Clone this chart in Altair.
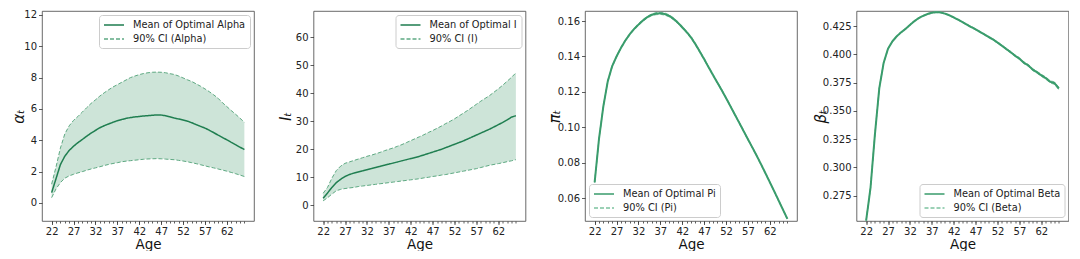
import altair as alt
import pandas as pd

AGES = list(range(22, 67))
X_LABEL_TICKS = [22, 27, 32, 37, 42, 47, 52, 57, 62]
X_DOMAIN = [19.8, 68.2]

alpha_mean = [0.66, 1.55, 2.45, 2.98, 3.35, 3.62, 3.85, 4.05, 4.26, 4.46,
              4.63, 4.80, 4.93, 5.04, 5.15, 5.25, 5.33, 5.40, 5.45, 5.49,
              5.52, 5.55, 5.57, 5.60, 5.62, 5.61, 5.57, 5.50, 5.42, 5.36,
              5.29, 5.22, 5.12, 5.00, 4.89, 4.78, 4.64, 4.49, 4.33, 4.18,
              4.03, 3.87, 3.72, 3.56, 3.41]
alpha_upper = [1.20, 2.30, 3.50, 4.40, 4.92, 5.27, 5.52, 5.80, 6.08, 6.35,
               6.58, 6.82, 7.03, 7.22, 7.40, 7.55, 7.70, 7.85, 8.00, 8.10,
               8.19, 8.26, 8.31, 8.34, 8.35, 8.34, 8.31, 8.25, 8.20, 8.10,
               7.98, 7.86, 7.75, 7.60, 7.45, 7.28, 7.10, 6.90, 6.68, 6.40,
               6.15, 5.90, 5.66, 5.41, 5.15]
alpha_lower = [0.34, 0.90, 1.30, 1.58, 1.73, 1.83, 1.92, 2.00, 2.09, 2.17,
               2.24, 2.31, 2.39, 2.46, 2.52, 2.57, 2.63, 2.67, 2.70, 2.73,
               2.76, 2.79, 2.81, 2.82, 2.83, 2.82, 2.80, 2.78, 2.76, 2.72,
               2.68, 2.63, 2.57, 2.51, 2.44, 2.37, 2.30, 2.24, 2.17, 2.10,
               2.03, 1.95, 1.87, 1.78, 1.69]

i_mean = [2.4, 4.3, 6.3, 8.0, 9.2, 10.2, 10.9, 11.4, 11.8, 12.2,
          12.6, 13.0, 13.4, 13.8, 14.2, 14.6, 15.0, 15.4, 15.8, 16.2,
          16.6, 17.0, 17.4, 17.9, 18.4, 18.9, 19.4, 19.9, 20.5, 21.1,
          21.7, 22.3, 22.9, 23.6, 24.3, 25.0, 25.7, 26.4, 27.1, 27.9,
          28.7, 29.5, 30.4, 31.4, 31.9]
i_upper = [4.2, 6.3, 9.6, 12.3, 13.9, 14.9, 15.4, 15.9, 16.4, 16.9,
           17.4, 17.8, 18.3, 18.8, 19.4, 19.9, 20.4, 21.0, 21.6, 22.3,
           23.0, 23.7, 24.4, 25.1, 25.9, 26.6, 27.4, 28.2, 29.1, 29.9,
           30.8, 31.8, 32.8, 33.8, 34.9, 36.0, 37.1, 38.1, 39.1, 40.3,
           41.5, 42.8, 44.2, 45.6, 47.2]
i_lower = [1.5, 2.6, 3.9, 5.1, 5.6, 5.9, 6.1, 6.3, 6.6, 6.8,
           7.0, 7.2, 7.4, 7.6, 7.8, 8.0, 8.2, 8.4, 8.6, 8.8,
           9.0, 9.2, 9.4, 9.7, 9.9, 10.2, 10.4, 10.7, 10.9, 11.2,
           11.5, 11.8, 12.1, 12.4, 12.7, 13.0, 13.4, 13.8, 14.2, 14.5,
           14.8, 15.1, 15.5, 15.8, 16.2]

pi_mean = [0.0688, 0.0935, 0.1120, 0.1260, 0.1345, 0.1400, 0.1448, 0.1490, 0.1525, 0.1555,
           0.1580, 0.1603, 0.1622, 0.1635, 0.1642, 0.1644, 0.1640, 0.1630, 0.1613, 0.1591,
           0.1565, 0.1538, 0.1508, 0.1470, 0.1428, 0.1385, 0.1340, 0.1296, 0.1253, 0.1210,
           0.1165, 0.1119, 0.1072, 0.1026, 0.0979, 0.0932, 0.0886, 0.0839, 0.0790, 0.0740,
           0.0689, 0.0638, 0.0586, 0.0534, 0.0482]
pi_upper = [0.0690, 0.0937, 0.1123, 0.1264, 0.1349, 0.1404, 0.1452, 0.1494, 0.1529, 0.1559,
            0.1585, 0.1608, 0.1627, 0.1640, 0.1648, 0.1650, 0.1646, 0.1636, 0.1619, 0.1597,
            0.1571, 0.1543, 0.1513, 0.1475, 0.1433, 0.1390, 0.1344, 0.1300, 0.1257, 0.1214,
            0.1169, 0.1123, 0.1076, 0.1030, 0.0983, 0.0936, 0.0889, 0.0842, 0.0793, 0.0743,
            0.0692, 0.0641, 0.0589, 0.0537, 0.0485]
pi_lower = [0.0686, 0.0933, 0.1117, 0.1256, 0.1341, 0.1396, 0.1444, 0.1486, 0.1521, 0.1551,
            0.1575, 0.1598, 0.1617, 0.1630, 0.1636, 0.1638, 0.1634, 0.1624, 0.1607, 0.1585,
            0.1559, 0.1533, 0.1503, 0.1465, 0.1423, 0.1380, 0.1336, 0.1292, 0.1249, 0.1206,
            0.1161, 0.1115, 0.1068, 0.1022, 0.0975, 0.0928, 0.0883, 0.0836, 0.0787, 0.0737,
            0.0686, 0.0635, 0.0583, 0.0531, 0.0479]

beta_mean = [0.2530, 0.2820, 0.3290, 0.3700, 0.3925, 0.4050, 0.4115, 0.4160, 0.4195, 0.4225,
             0.4260, 0.4293, 0.4320, 0.4340, 0.4356, 0.4368, 0.4373, 0.4370, 0.4360, 0.4345,
             0.4326, 0.4306, 0.4285, 0.4263, 0.4241, 0.4221, 0.4198, 0.4176, 0.4152, 0.4131,
             0.4104, 0.4076, 0.4047, 0.4019, 0.3988, 0.3962, 0.3926, 0.3903, 0.3866, 0.3842,
             0.3814, 0.3790, 0.3758, 0.3745, 0.3698]
beta_upper = [0.2532, 0.2823, 0.3294, 0.3704, 0.3929, 0.4054, 0.4119, 0.4164, 0.4199, 0.4229,
              0.4264, 0.4297, 0.4324, 0.4344, 0.4360, 0.4372, 0.4377, 0.4374, 0.4364, 0.4349,
              0.4330, 0.4310, 0.4289, 0.4268, 0.4246, 0.4226, 0.4203, 0.4181, 0.4158, 0.4137,
              0.4110, 0.4082, 0.4054, 0.4026, 0.3995, 0.3970, 0.3934, 0.3911, 0.3875, 0.3851,
              0.3823, 0.3800, 0.3768, 0.3756, 0.3709]
beta_lower = [0.2528, 0.2817, 0.3286, 0.3696, 0.3921, 0.4046, 0.4111, 0.4156, 0.4191, 0.4221,
              0.4256, 0.4289, 0.4316, 0.4336, 0.4352, 0.4364, 0.4369, 0.4366, 0.4356, 0.4341,
              0.4322, 0.4302, 0.4281, 0.4258, 0.4236, 0.4216, 0.4193, 0.4171, 0.4146, 0.4125,
              0.4098, 0.4070, 0.4040, 0.4012, 0.3981, 0.3954, 0.3918, 0.3895, 0.3857, 0.3833,
              0.3805, 0.3780, 0.3748, 0.3734, 0.3687]

FONT = "DejaVu Sans"
FILL = "#cde4d8"
W, H = 212, 210


def make_panel(name, ylabel, mean, lower, upper, ydomain, yticks, yfmt,
               legend_orient, mean_color, ci_color, mean_width, title_x):
    mean_lab = f"Mean of Optimal {name}"
    ci_lab = f"90% CI ({name})"
    n = len(AGES)
    band = pd.DataFrame({"age": AGES, "lower": lower, "upper": upper})
    lines = pd.DataFrame({
        "age": AGES * 3,
        "value": list(mean) + list(lower) + list(upper),
        "series": [mean_lab] * n + [ci_lab] * (2 * n),
        "part": ["mean"] * n + ["lower"] * n + ["upper"] * n,
    })
    xscale = alt.Scale(domain=X_DOMAIN, nice=False, zero=False)
    yscale = alt.Scale(domain=ydomain, nice=False, zero=False)
    legend = alt.Legend(
        title=None, orient=legend_orient, offset=4,
        fillColor="white", strokeColor="#cccccc", cornerRadius=3,
        padding=4, rowPadding=3, labelFontSize=9.8, labelFont=FONT,
        labelColor="#222222", symbolType="M-1,0H3", symbolSize=100,
        symbolStrokeWidth=1.5, labelOffset=18,
    )
    color = alt.Color("series:N", scale=alt.Scale(domain=[mean_lab, ci_lab],
                                                  range=[mean_color, ci_color]),
                      legend=legend)
    dash = alt.StrokeDash("series:N", scale=alt.Scale(domain=[mean_lab, ci_lab],
                                                      range=[[1, 0], [4, 2]]),
                          legend=legend)
    minor_axis = alt.Axis(orient="bottom", values=AGES, labels=False, tickSize=2,
                          title=None, domain=False, grid=False)
    major_axis = alt.Axis(orient="bottom", values=X_LABEL_TICKS, tickSize=3.5,
                          labelFontSize=10, labelPadding=1.5, title="Age",
                          titleFontSize=13.5, titleFontWeight="normal",
                          titlePadding=1, domain=False, grid=False)
    yaxis = alt.Axis(values=yticks, format=yfmt, title=ylabel, tickSize=3.5,
                     labelFontSize=10, labelPadding=2, titleX=title_x,
                     titleBaseline="middle", titleFontSize=15,
                     titleFontStyle="italic", titleFontWeight="normal",
                     domain=False, grid=False)
    area = alt.Chart(band).mark_area(color=FILL, clip=True).encode(
        x=alt.X("age:Q", scale=xscale, axis=minor_axis),
        y=alt.Y("lower:Q", scale=yscale, axis=yaxis),
        y2="upper:Q",
    )
    ci = alt.Chart(lines).transform_filter("datum.part != 'mean'").mark_line(
        strokeWidth=1, clip=True).encode(
        x=alt.X("age:Q", scale=xscale, axis=None),
        y=alt.Y("value:Q", scale=yscale, axis=yaxis),
        color=color, strokeDash=dash, detail="part:N",
    )
    mn = alt.Chart(lines).transform_filter("datum.part == 'mean'").mark_line(
        strokeWidth=mean_width, clip=True).encode(
        x=alt.X("age:Q", scale=xscale, axis=major_axis),
        y=alt.Y("value:Q", scale=yscale, axis=yaxis),
        color=color, strokeDash=dash,
    )
    return alt.layer(area, ci, mn).resolve_axis(x="independent").properties(
        width=W, height=H)


p1 = make_panel("Alpha", "αₜ", alpha_mean, alpha_lower, alpha_upper,
                [-1.15, 12.25], [0, 2, 4, 6, 8, 10, 12], "d", "top-right",
                "#1f7e50", "#5ea982", 1.5, -24)
p2 = make_panel("I", "Iₜ", i_mean, i_lower, i_upper,
                [-5.7, 69.3], [0, 10, 20, 30, 40, 50, 60], "d", "top-right",
                "#1f7e50", "#5ea982", 1.5, -28)
p3 = make_panel("Pi", "πₜ", pi_mean, pi_lower, pi_upper,
                [0.047, 0.1657], [0.06, 0.08, 0.10, 0.12, 0.14, 0.16], ".2f",
                "bottom-left", "#3a9c6c", "#7cc29f", 2, -31)
p4 = make_panel("Beta", "βₜ", beta_mean, beta_lower, beta_upper,
                [0.2527, 0.4383], [0.275, 0.300, 0.325, 0.350, 0.375, 0.400, 0.425],
                ".3f", "bottom-right", "#3a9c6c", "#7cc29f", 2, -36)

chart = alt.hconcat(p1, p2, p3, p4, spacing=59.5, bounds="flush").resolve_scale(
    color="independent", strokeDash="independent"
).properties(
    padding={"left": 2, "top": 1, "right": 0, "bottom": 0}
).configure_view(
    stroke="#444444", strokeWidth=0.8
).configure_axis(
    labelFont=FONT, titleFont=FONT, labelColor="#222222", tickColor="#333333",
    titleColor="#111111", tickWidth=0.8
)

chart.save("out.html", embed_options={"renderer": "svg", "actions": False})
